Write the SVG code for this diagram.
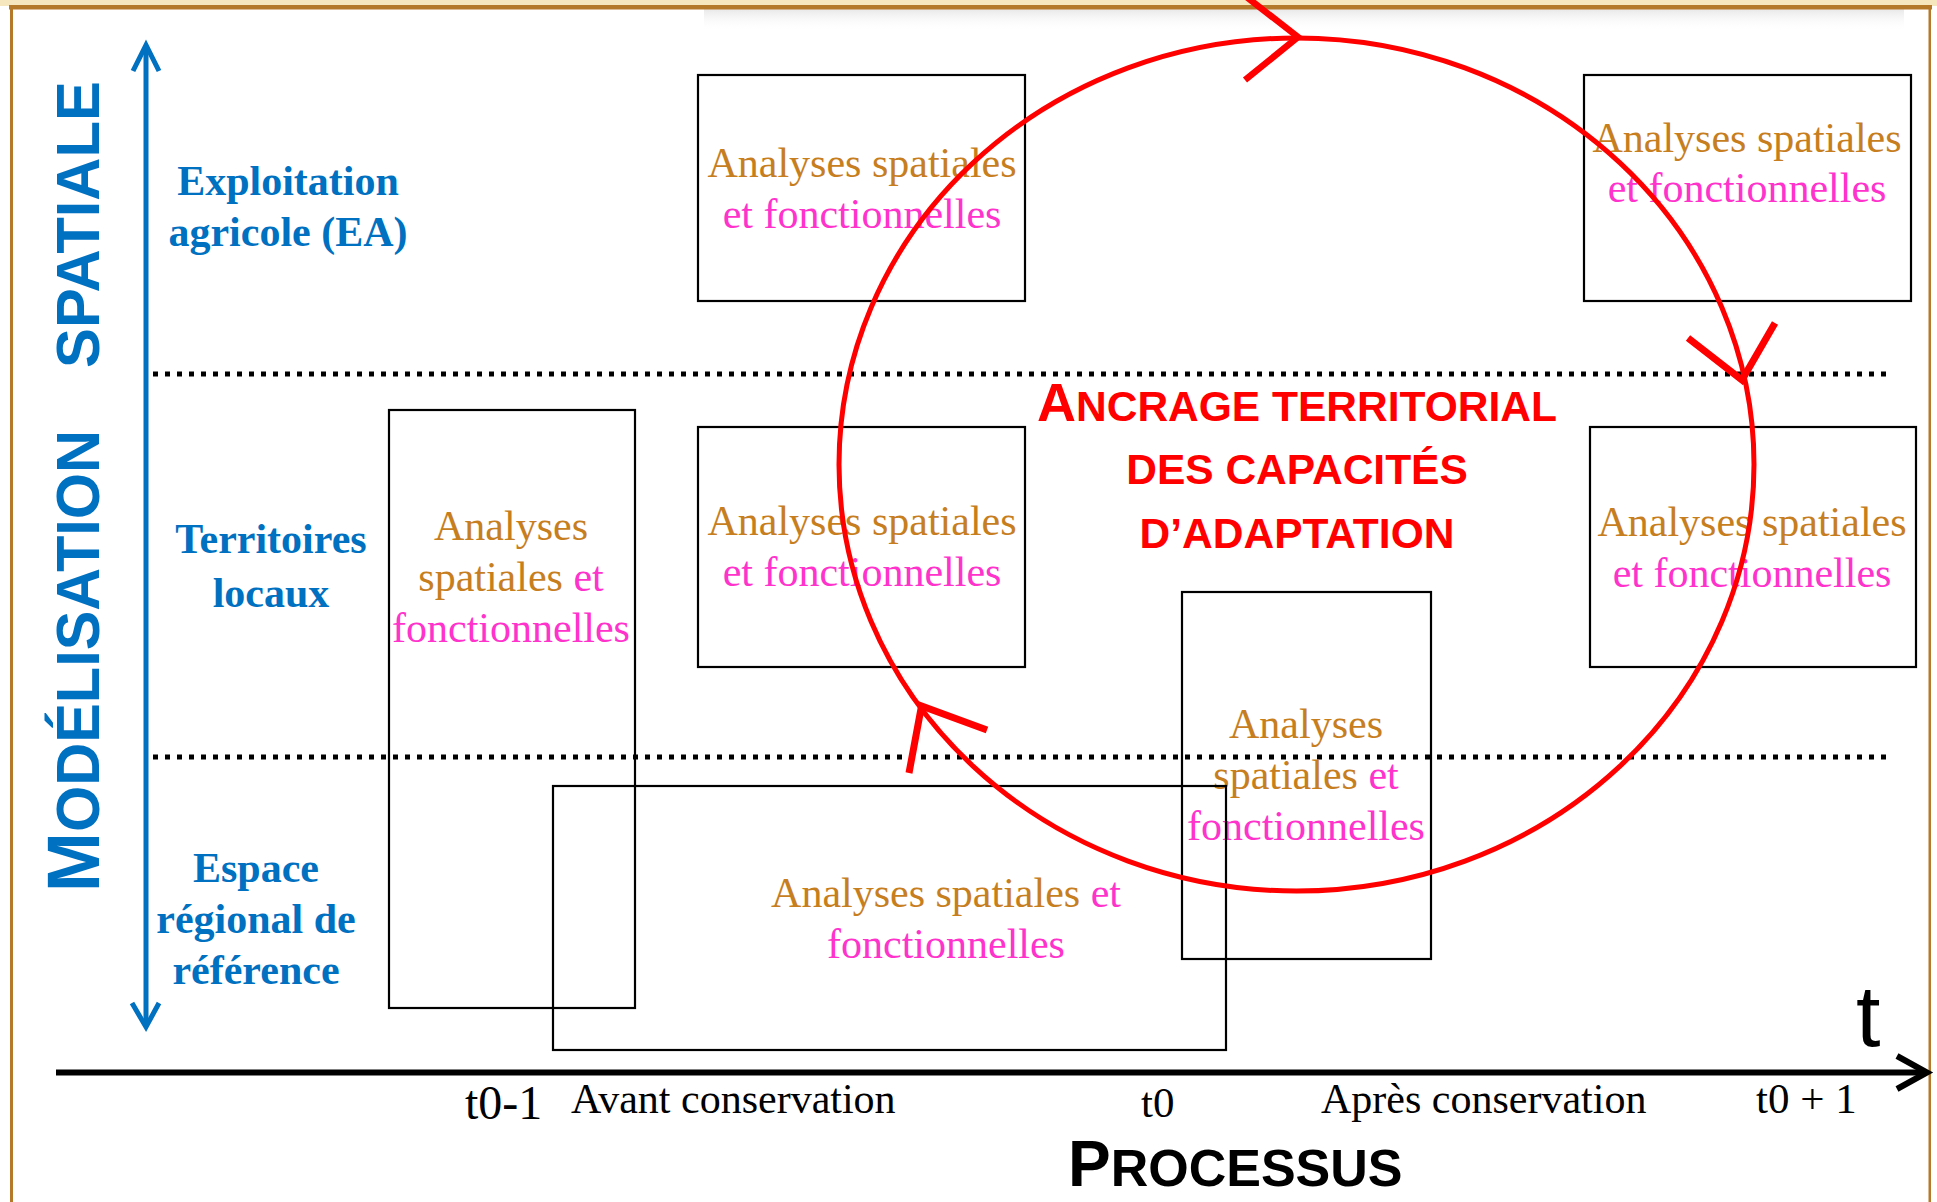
<svg xmlns="http://www.w3.org/2000/svg" width="1937" height="1202" viewBox="0 0 1937 1202">
<defs>
<style>
.box{fill:none;stroke:#000;stroke-width:2.2}
.lbl{font-family:"Liberation Serif","Times New Roman",serif;font-weight:bold;font-size:42px;fill:#0070C0;text-anchor:middle}
.an{font-family:"Liberation Serif","Times New Roman",serif;font-size:42px;text-anchor:middle}
.or{fill:#C77E1E}
.mg{fill:#FF33CC}
.tm{font-family:"Liberation Serif","Times New Roman",serif;font-size:42px;fill:#000}
.dot{stroke:#000;stroke-width:5;stroke-dasharray:5 7;fill:none}
.red{stroke:#FF0000;fill:none;stroke-linecap:butt}
.blue{stroke:#0070C0;fill:none;stroke-width:5}
</style>
<linearGradient id="shade" x1="0" y1="0" x2="0" y2="1">
<stop offset="0" stop-color="#d8d8d8" stop-opacity="0.6"/>
<stop offset="1" stop-color="#ffffff" stop-opacity="0"/>
</linearGradient>
</defs>
<rect x="0" y="0" width="1937" height="1202" fill="#fff"/>
<!-- frame -->
<g id="frame">
<rect x="0" y="0" width="1937" height="6" fill="#F6E7BF"/>
<rect x="704" y="9" width="1200" height="22" fill="url(#shade)"/>
<rect x="9" y="5" width="1923" height="4.5" fill="#B5792A"/>
<rect x="10" y="5" width="3" height="1197" fill="#B5792A"/>
<rect x="1928.5" y="5" width="2.5" height="1197" fill="#B5792A"/>
</g>
<!-- vertical axis title -->
<g id="axis-title" fill="#0070C0" font-family="'Liberation Sans',Arial,sans-serif" font-weight="bold">
<text transform="translate(99,892) rotate(-90)" x="0" y="0" textLength="462" lengthAdjust="spacingAndGlyphs"><tspan font-size="75">M</tspan><tspan font-size="62">ODÉLISATION</tspan></text>
<text transform="translate(99,368) rotate(-90)" x="0" y="0" font-size="62" textLength="287" lengthAdjust="spacingAndGlyphs">SPATIALE</text>
</g>
<!-- level labels -->
<g id="level-ea">
<text class="lbl" x="288" y="195">Exploitation</text>
<text class="lbl" x="288" y="246">agricole (EA)</text>
</g>
<g id="level-tl">
<text class="lbl" x="271" y="553">Territoires</text>
<text class="lbl" x="271" y="607">locaux</text>
</g>
<g id="level-erf">
<text class="lbl" x="256" y="882">Espace</text>
<text class="lbl" x="256" y="933">régional de</text>
<text class="lbl" x="256" y="984">référence</text>
</g>
<!-- dotted separators -->
<g id="separators">
<line class="dot" x1="153" y1="374" x2="1886" y2="374"/>
<line class="dot" x1="153" y1="757" x2="1886" y2="757"/>
</g>
<!-- boxes -->
<g id="box-ea-before">
<rect class="box" x="698" y="75" width="327" height="226"/>
<text class="an or" x="862" y="177">Analyses spatiales</text>
<text class="an mg" x="862" y="228">et fonctionnelles</text>
</g>
<g id="box-ea-after">
<rect class="box" x="1584" y="75" width="327" height="226"/>
<text class="an or" x="1747" y="152">Analyses spatiales</text>
<text class="an mg" x="1747" y="202">et fonctionnelles</text>
</g>
<g id="box-tl-t0-1">
<rect class="box" x="389" y="410" width="246" height="598"/>
<text class="an or" x="511" y="540">Analyses</text>
<text class="an" x="511" y="591"><tspan class="or">spatiales </tspan><tspan class="mg">et</tspan></text>
<text class="an mg" x="511" y="642">fonctionnelles</text>
</g>
<g id="box-tl-before">
<rect class="box" x="698" y="427" width="327" height="240"/>
<text class="an or" x="862" y="535">Analyses spatiales</text>
<text class="an mg" x="862" y="586">et fonctionnelles</text>
</g>
<g id="box-tl-after">
<rect class="box" x="1590" y="427" width="326" height="240"/>
<text class="an or" x="1752" y="536">Analyses spatiales</text>
<text class="an mg" x="1752" y="587">et fonctionnelles</text>
</g>
<g id="box-t0">
<rect class="box" x="1182" y="592" width="249" height="367"/>
<text class="an or" x="1306" y="738">Analyses</text>
<text class="an" x="1306" y="789"><tspan class="or">spatiales </tspan><tspan class="mg">et</tspan></text>
<text class="an mg" x="1306" y="840">fonctionnelles</text>
</g>
<g id="box-erf-before">
<rect class="box" x="553" y="786" width="673" height="264"/>
<text class="an" x="946" y="907"><tspan class="or">Analyses spatiales </tspan><tspan class="mg">et</tspan></text>
<text class="an mg" x="946" y="958">fonctionnelles</text>
</g>
<!-- central title -->
<g id="ancrage" fill="#FF0000" font-family="'Liberation Sans',Arial,sans-serif" font-weight="bold" text-anchor="middle">
<text x="1297" y="421" font-size="42.5"><tspan font-size="54">A</tspan>NCRAGE TERRITORIAL</text>
<text x="1297" y="484" font-size="42.5">DES CAPACITÉS</text>
<text x="1297" y="548" font-size="42.5">D’ADAPTATION</text>
</g>
<!-- connectors -->
<g id="connectors">
<ellipse class="red" cx="1296.5" cy="464.5" rx="457.5" ry="426.5" stroke-width="5"/>
<polyline class="red" stroke-width="6.5" points="1244,-5 1298,37 1245,80"/>
<polyline class="red" stroke-width="7" points="1688,338 1742,380 1775,323"/>
<polyline class="red" stroke-width="7" points="909,773 921.5,706 987,730"/>
<!-- spatial axis -->
<line class="blue" x1="146" y1="48" x2="146" y2="1024"/>
<polyline class="blue" points="133,71 146,45 159,71"/>
<polyline class="blue" points="132,1003 146,1027 159,1003"/>
<!-- time axis -->
<line x1="56" y1="1072.5" x2="1926" y2="1072.5" stroke="#000" stroke-width="6"/>
<polyline points="1897,1056 1927,1072.5 1897,1089" fill="none" stroke="#000" stroke-width="6"/>
</g>
<g id="time-labels">
<text x="1856" y="1046" font-family="'Liberation Sans',Arial,sans-serif" font-size="88" fill="#000">t</text>
<text class="tm" x="465" y="1119" style="font-size:48px">t0-1</text>
<text class="tm" x="571" y="1113">Avant conservation</text>
<text class="tm" x="1141" y="1117" style="font-size:43px">t0</text>
<text class="tm" x="1321" y="1113">Après conservation</text>
<text class="tm" x="1756" y="1113" style="font-size:43px">t0 + 1</text>
<text x="1068" y="1186" font-family="'Liberation Sans',Arial,sans-serif" font-weight="bold" font-size="52" fill="#000"><tspan font-size="64">P</tspan>ROCESSUS</text>
</g>
</svg>
